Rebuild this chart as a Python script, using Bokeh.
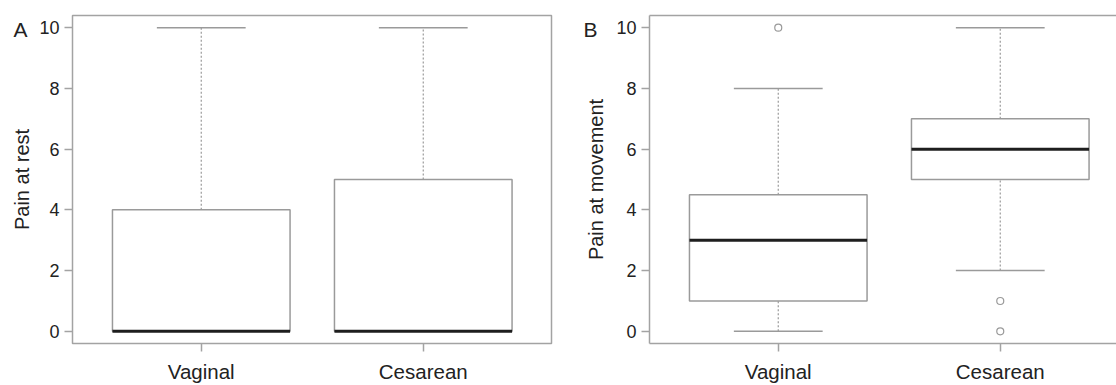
from bokeh.plotting import figure
from bokeh.models import Range1d, FixedTicker, LinearAxis
from bokeh.layouts import row
from bokeh.embed import file_html
from bokeh.resources import INLINE

# ---- data ----
categories = ["Vaginal", "Cesarean"]

rest_lower = [0, 0]
rest_q1 = [0, 0]
rest_median = [0, 0]
rest_q3 = [4, 5]
rest_upper = [10, 10]
rest_outlier_group = []
rest_outlier_value = []

move_lower = [0, 2]
move_q1 = [1, 5]
move_median = [3, 6]
move_q3 = [4.5, 7]
move_upper = [8, 10]
move_outlier_group = ["Vaginal", "Cesarean", "Cesarean"]
move_outlier_value = [10, 1, 0]

y_ticks = [0, 2, 4, 6, 8, 10]

# ---- styling ----
FONT = "Liberation Sans"
TEXT = "#222222"
GRAY = "#a3a3a3"
BOX = "#9a9a9a"
PX_PER_UNIT = 222.0


def make_panel(letter, ylabel, lower, q1, med, q3, upper, og, ov,
               width, border_left, border_right, cropped, letter_offset,
               label_standoff):
    frame_w = width - border_left - border_right
    x_end = 0.42 + frame_w / PX_PER_UNIT
    p = figure(width=width, height=385, output_backend="svg",
               toolbar_location=None, x_range=Range1d(0.42, x_end),
               y_range=Range1d(-0.4, 10.4),
               min_border_left=border_left, min_border_right=border_right,
               min_border_top=15, min_border_bottom=41)
    p.grid.visible = False
    p.background_fill_color = "white"
    p.border_fill_color = "white"

    pos = [i + 1 for i in range(len(categories))]
    idx = {c: i + 1 for i, c in enumerate(categories)}

    # boxes
    p.quad(left=[x - 0.4 for x in pos], right=[x + 0.4 for x in pos],
           bottom=q1, top=q3, fill_color="white", line_color=BOX,
           line_width=1.5)
    # whiskers
    p.segment(x0=pos, y0=q3, x1=pos, y1=upper, line_color=BOX,
              line_width=1.2, line_dash="2 2")
    p.segment(x0=pos, y0=lower, x1=pos, y1=q1, line_color=BOX,
              line_width=1.2, line_dash="2 2")
    # caps
    p.segment(x0=[x - 0.2 for x in pos], y0=upper,
              x1=[x + 0.2 for x in pos], y1=upper,
              line_color=BOX, line_width=1.5)
    p.segment(x0=[x - 0.2 for x in pos], y0=lower,
              x1=[x + 0.2 for x in pos], y1=lower,
              line_color=BOX, line_width=1.5)
    # medians
    p.segment(x0=[x - 0.4 for x in pos], y0=med,
              x1=[x + 0.4 for x in pos], y1=med,
              line_color="#1e1e1e", line_width=3)
    # outliers
    if og:
        p.scatter(x=[idx[g] for g in og], y=ov, marker="circle", size=7,
                  fill_color="white", line_color=BOX, line_width=1.2)

    # axes
    xa = p.xaxis[0]
    xa.ticker = FixedTicker(ticks=pos)
    xa.major_label_overrides = {x: c for x, c in zip(pos, categories)}
    ya = p.yaxis[0]
    ya.ticker = FixedTicker(ticks=y_ticks)
    ya.axis_label = ylabel
    for ax in (xa, ya):
        ax.minor_tick_line_color = None
        ax.major_tick_in = 0
        ax.major_tick_out = 8
        ax.major_tick_line_color = GRAY
        ax.major_tick_line_width = 1.5
        ax.major_label_text_font = FONT
        ax.major_label_text_color = TEXT
        ax.axis_label_text_font = FONT
        ax.axis_label_text_color = TEXT
        ax.axis_label_text_font_style = "normal"
        ax.axis_label_text_font_size = "20px"
        ax.major_label_standoff = 5
    xa.major_label_text_font_size = "20.5px"
    xa.major_label_standoff = 8
    ya.major_label_text_font_size = "18px"
    ya.axis_label_standoff = label_standoff

    if cropped:
        p.outline_line_color = None
        for ax in (xa, ya):
            ax.axis_line_color = GRAY
            ax.axis_line_width = 1.5
        top = LinearAxis(ticker=FixedTicker(ticks=[]), axis_line_color=GRAY,
                         axis_line_width=1.5, major_tick_line_color=None,
                         major_tick_out=0, major_tick_in=0,
                         minor_tick_line_color=None, minor_tick_out=0,
                         major_label_standoff=0,
                         major_label_text_font_size="0px")
        p.add_layout(top, "above")
    else:
        p.outline_line_color = GRAY
        p.outline_line_width = 1.5
        p.outline_line_alpha = 1.0
        for ax in (xa, ya):
            ax.axis_line_color = None

    # panel letter: second line of the title, pulled down beside the frame
    p.title.text = "\n" + letter
    p.title.align = "left"
    p.title.vertical_align = "top"
    p.title.offset = letter_offset
    p.title.standoff = -62
    p.title.text_font = FONT
    p.title.text_font_size = "21px"
    p.title.text_line_height = 1.445
    p.title.text_font_style = "normal"
    p.title.text_color = TEXT
    return p


pA = make_panel("A", "Pain at rest", rest_lower, rest_q1, rest_median,
                rest_q3, rest_upper, rest_outlier_group, rest_outlier_value,
                width=577, border_left=72, border_right=26, cropped=False,
                letter_offset=-59, label_standoff=3)
pB = make_panel("B", "Pain at movement", move_lower, move_q1, move_median,
                move_q3, move_upper, move_outlier_group, move_outlier_value,
                width=539, border_left=72, border_right=0, cropped=True,
                letter_offset=-66, label_standoff=6)

layout = row(pA, pB)
open("out.html", "w").write(file_html(layout, INLINE))
